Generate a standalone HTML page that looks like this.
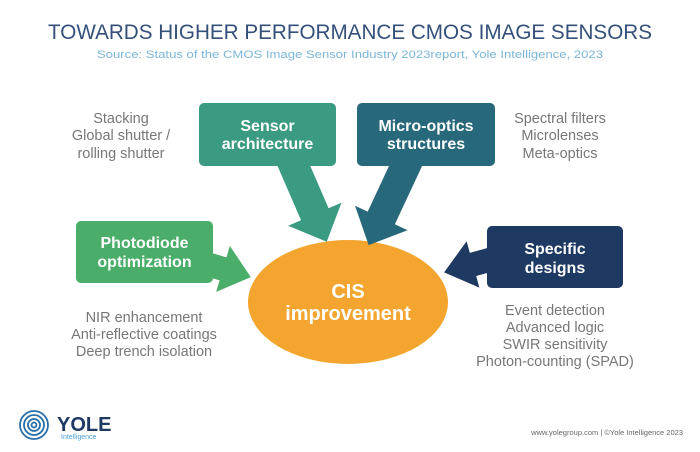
<!DOCTYPE html>
<html><head><meta charset="utf-8"><style>
body{margin:0;background:#fff;}
svg{display:block;font-family:"Liberation Sans",sans-serif;}
</style></head><body>
<svg width="700" height="452" viewBox="0 0 700 452" xmlns="http://www.w3.org/2000/svg">
<rect width="700" height="452" fill="#fff"/>
<text x="350" y="39" text-anchor="middle" font-size="21" fill="#34507a" textLength="604" lengthAdjust="spacingAndGlyphs">TOWARDS HIGHER PERFORMANCE CMOS IMAGE SENSORS</text>
<text x="350" y="58" text-anchor="middle" font-size="11" fill="#7ab6d9" textLength="506" lengthAdjust="spacingAndGlyphs">Source: Status of the CMOS Image Sensor Industry 2023report, Yole Intelligence, 2023</text>

<ellipse cx="348" cy="302" rx="100" ry="62" fill="#f4a530"/>
<text x="348" y="298" text-anchor="middle" font-size="20" font-weight="bold" fill="#fff">CIS</text>
<text x="348" y="320" text-anchor="middle" font-size="20" font-weight="bold" fill="#fff">improvement</text>

<g transform="translate(287,150) rotate(66.6)"><polygon points="0,-15 70,-15 70,-29 100,0 70,29 70,15 0,15" fill="#3a9a82"/></g>
<g transform="translate(413,150) rotate(115)"><polygon points="0,-15 75,-15 75,-29 105,0 75,29 75,15 0,15" fill="#27687a"/></g>
<g transform="translate(200,262) rotate(16.6)"><polygon points="0,-12 24,-12 24,-24 53,0 24,24 24,12 0,12" fill="#4aae6a"/></g>
<g transform="translate(500,257) rotate(164.6)"><polygon points="0,-12 28,-12 28,-24 58,0 28,24 28,12 0,12" fill="#1e3a63"/></g>

<rect x="199" y="103" width="137" height="63" rx="5" fill="#3a9a82"/>
<text x="267.5" y="131" text-anchor="middle" font-size="16" font-weight="bold" fill="#fff">Sensor</text>
<text x="267.5" y="149" text-anchor="middle" font-size="16" font-weight="bold" fill="#fff">architecture</text>

<rect x="357" y="103" width="138" height="63" rx="5" fill="#27687a"/>
<text x="426" y="131" text-anchor="middle" font-size="16" font-weight="bold" fill="#fff">Micro-optics</text>
<text x="426" y="149" text-anchor="middle" font-size="16" font-weight="bold" fill="#fff">structures</text>

<rect x="76" y="221" width="137" height="62" rx="5" fill="#4aae6a"/>
<text x="144.5" y="248" text-anchor="middle" font-size="16" font-weight="bold" fill="#fff">Photodiode</text>
<text x="144.5" y="267" text-anchor="middle" font-size="16" font-weight="bold" fill="#fff">optimization</text>

<rect x="487" y="226" width="136" height="62" rx="5" fill="#1e3a63"/>
<text x="555" y="254" text-anchor="middle" font-size="16" font-weight="bold" fill="#fff">Specific</text>
<text x="555" y="273" text-anchor="middle" font-size="16" font-weight="bold" fill="#fff">designs</text>

<g font-size="14.5" fill="#777" text-anchor="middle">
<text x="121" y="123">Stacking</text>
<text x="121" y="140">Global shutter /</text>
<text x="121" y="158">rolling shutter</text>
<text x="560" y="123">Spectral filters</text>
<text x="560" y="140">Microlenses</text>
<text x="560" y="158">Meta-optics</text>
<text x="144" y="322">NIR enhancement</text>
<text x="144" y="339">Anti-reflective coatings</text>
<text x="144" y="356">Deep trench isolation</text>
<text x="555" y="315">Event detection</text>
<text x="555" y="332">Advanced logic</text>
<text x="555" y="349">SWIR sensitivity</text>
<text x="555" y="366">Photon-counting (SPAD)</text>
</g>

<g fill="none" stroke="#2a70a8" stroke-width="1.8">
<circle cx="34" cy="425" r="14"/>
<circle cx="34" cy="425" r="10"/>
<circle cx="34" cy="425" r="6"/>
<circle cx="34" cy="425" r="2.5"/>
</g>
<text x="57" y="431" font-size="20" font-weight="bold" fill="#1e3a63">YOLE</text>
<text x="61" y="439" font-size="7" fill="#4a9fd8">Intelligence</text>
<text x="683" y="435" text-anchor="end" font-size="7.5" fill="#666">www.yolegroup.com | ©Yole Intelligence 2023</text>
</svg>
</body></html>
